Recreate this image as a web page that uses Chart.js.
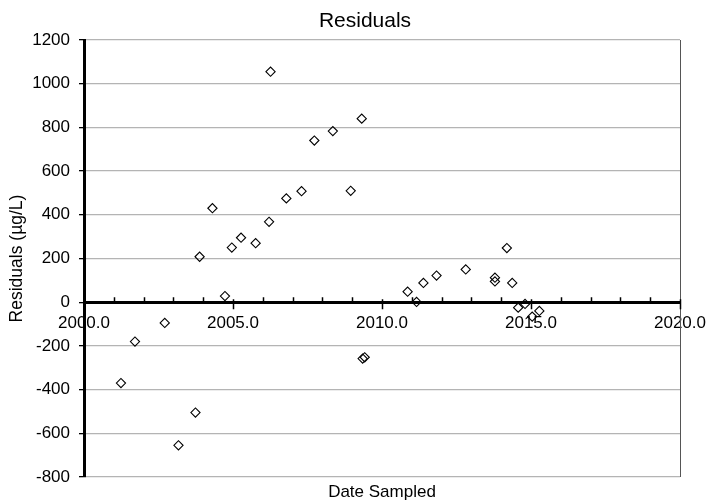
<!DOCTYPE html>
<html>
<head>
<meta charset="utf-8">
<script src="https://cdn.jsdelivr.net/npm/chart.js@4"></script>
<style>
  html, body { margin: 0; padding: 0; background: #fff; }
  #contenedor { width: 708px; height: 504px; }
</style>
</head>
<body>
<div id="contenedor"><canvas id="graficoResiduos"></canvas></div>
<script>
// Fechas de muestreo (año decimal) y residuos (µg/L)
const fechas = [
    2001.24, 2001.71, 2002.71, 2003.17, 2003.74, 2003.88, 2004.31, 2004.73,
    2004.96, 2005.27, 2005.76, 2006.21, 2006.26, 2006.79, 2007.30, 2007.73,
    2008.35, 2008.95, 2009.32, 2009.35, 2009.42, 2010.86, 2011.16, 2011.39,
    2011.83, 2012.81, 2013.79, 2013.79, 2014.19, 2014.37, 2014.57, 2014.80,
    2015.04, 2015.28
];
const residuos = [
    -370, -180, -95, -655, -505, 208, 430, 28,
    250, 295, 270, 368, 1055, 475, 508, 740,
    783, 510, 840, -258, -252, 48, 1, 88,
    122, 150, 112, 95, 248, 88, -25, -8,
    -66, -40
];

// Límites de los ejes
const ejeX = { min: 2000, max: 2020, paso: 5 };
const ejeY = { min: -800, max: 1200, paso: 200 };

const titulo = 'Residuals';
const tituloX = 'Date Sampled';
const tituloY = 'Residuals (µg/L)';

const fuente = 'Arial, "Liberation Sans", sans-serif';

// Marco gris del área de trazado (lado derecho)
const marcoPlugin = {
    id: 'marco',
    beforeDatasetsDraw(chart) {
        const { ctx, chartArea } = chart;
        ctx.save();
        ctx.strokeStyle = '#555';
        ctx.lineWidth = 1;
        ctx.beginPath();
        ctx.moveTo(chartArea.right + 0.5, chartArea.top);
        ctx.lineTo(chartArea.right + 0.5, chartArea.bottom);
        ctx.stroke();
        ctx.restore();
    }
};

// Marcas del eje X sobre la línea del cero (menores hacia arriba, mayores cruzando)
const marcasPlugin = {
    id: 'marcas',
    afterDraw(chart) {
        const { ctx } = chart;
        const x = chart.scales.x;
        const y0 = chart.scales.y.getPixelForValue(0);
        ctx.save();
        ctx.strokeStyle = '#000';
        ctx.lineWidth = 1.5;
        ctx.beginPath();
        for (let v = ejeX.min + 1; v <= ejeX.max; v++) {
            const px = Math.round(x.getPixelForValue(v)) + 0.5;
            if (v % ejeX.paso === 0) {
                ctx.moveTo(px, y0 - 3);
                ctx.lineTo(px, y0 + 7);
            } else {
                ctx.moveTo(px, y0 - 5);
                ctx.lineTo(px, y0);
            }
        }
        ctx.stroke();
        ctx.restore();
    }
};

// Título principal
const tituloPlugin = {
    id: 'tituloPrincipal',
    afterDraw(chart) {
        const { ctx } = chart;
        ctx.save();
        ctx.font = '21px ' + fuente;
        ctx.fillStyle = '#000';
        ctx.textAlign = 'center';
        ctx.textBaseline = 'alphabetic';
        ctx.fillText(titulo, 365, 27);
        ctx.restore();
    }
};

function crearGrafico() {
    const ctx = document.getElementById('graficoResiduos').getContext('2d');

    const puntos = fechas.map((f, i) => ({ x: f, y: residuos[i] }));

    new Chart(ctx, {
        type: 'scatter',
        data: {
            datasets: [{
                label: 'Residuals',
                data: puntos,
                pointStyle: 'rectRot',
                pointRadius: 4.6,
                pointHoverRadius: 4.6,
                pointBackgroundColor: 'rgba(255,255,255,0)',
                pointBorderColor: '#000',
                pointBorderWidth: 1.1
            }]
        },
        options: {
            responsive: true,
            maintainAspectRatio: false,
            animation: false,
            layout: {
                padding: { left: 0, right: 28, top: 40, bottom: 0 }
            },
            plugins: {
                legend: { display: false },
                tooltip: { enabled: false },
                subtitle: {
                    display: true,
                    position: 'bottom',
                    fullSize: false,
                    text: tituloX,
                    color: '#000',
                    font: { family: fuente, size: 17, weight: 'normal' },
                    padding: { top: 5, bottom: 1.6 }
                }
            },
            scales: {
                x: {
                    type: 'linear',
                    position: { y: 0 },
                    min: ejeX.min,
                    max: ejeX.max,
                    ticks: {
                        stepSize: 1,
                        autoSkip: false,
                        maxRotation: 0,
                        color: '#000',
                        font: { family: fuente, size: 17 },
                        padding: 11,
                        callback: v => (v % ejeX.paso === 0 ? v.toFixed(1) : '')
                    },
                    grid: { drawOnChartArea: false, drawTicks: false },
                    border: { color: '#000', width: 3 },
                    afterFit(escala) {
                        escala.paddingLeft = 0;
                        escala.paddingRight = 0;
                    }
                },
                y: {
                    type: 'linear',
                    position: 'left',
                    min: ejeY.min,
                    max: ejeY.max,
                    ticks: {
                        stepSize: ejeY.paso,
                        color: '#000',
                        font: { family: fuente, size: 17 },
                        padding: 9,
                        callback: v => String(v)
                    },
                    grid: {
                        color: '#b4b4b4',
                        lineWidth: 1.3,
                        tickColor: '#000',
                        tickLength: 5
                    },
                    border: { color: '#000', width: 3 },
                    title: {
                        display: true,
                        text: tituloY,
                        color: '#000',
                        font: { family: fuente, size: 17.5 },
                        padding: { top: 7, bottom: 0 }
                    },
                    afterFit(escala) {
                        escala.width = 84;
                    }
                }
            }
        },
        plugins: [marcoPlugin, marcasPlugin, tituloPlugin]
    });
}

crearGrafico();
</script>
</body>
</html>
